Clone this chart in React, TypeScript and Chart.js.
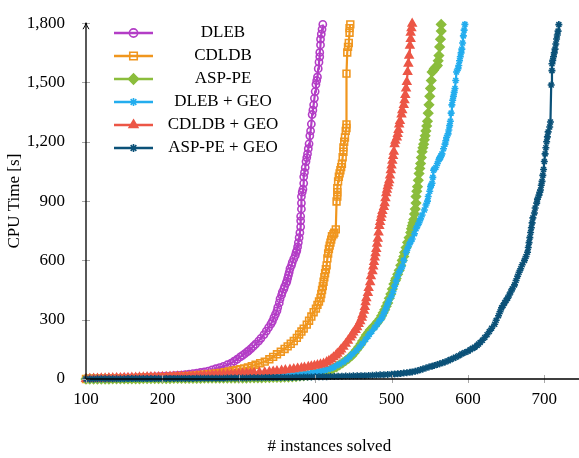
import React, { useEffect, useRef } from 'react';
import { Chart, registerables } from 'chart.js';
import { drawPoint } from 'chart.js/helpers';

Chart.register(...registerables);

// Cactus plot: CPU time of the i-th solved instance, per solver configuration.
const seriesNames = ['DLEB', 'CDLDB', 'ASP-PE', 'DLEB + GEO', 'CDLDB + GEO', 'ASP-PE + GEO'];

const xTicks = [100, 200, 300, 400, 500, 600, 700];
const yTicks = [0, 300, 600, 900, 1200, 1500, 1800];

const dleb: [number, number][] = [
  [100, 0], [105, 1], [110, 1], [115, 1], [120, 2], [125, 2], [130, 3], [135, 3], [140, 4], [145, 4],
  [150, 5], [155, 5], [160, 6], [165, 6], [170, 7], [175, 8], [180, 9], [185, 10], [190, 11], [195, 12],
  [200, 13], [205, 14], [210, 15], [215, 17], [220, 18], [225, 20], [230, 22], [235, 24], [240, 27], [245, 30],
  [250, 33], [255, 36], [260, 40], [265, 46], [270, 52], [275, 58], [280, 64], [285, 72], [290, 80], [294, 90],
  [298, 100], [302, 112], [305, 120], [308, 128], [311, 137], [313, 144], [316, 154], [319, 165], [322, 176],
  [326, 192], [329, 206], [333, 225], [336, 242], [339, 260], [342, 278], [344, 292], [346, 310], [348, 327],
  [350, 345], [351, 362], [353, 385], [354, 405], [356, 425], [357, 440], [359, 455], [360, 468], [362, 485],
  [363, 495], [364, 510], [365, 525], [366, 540], [367, 558], [369, 575], [370, 590], [372, 608], [374, 625],
  [375, 640], [376, 650], [377, 668], [378, 690], [379, 715], [380, 740], [381, 770], [381, 800], [381, 823],
  [382, 860], [382, 890], [382, 923], [383, 945], [384, 960], [385, 990], [385, 1023], [386, 1045], [387, 1070],
  [388, 1100], [389, 1120], [390, 1139], [391, 1165], [392, 1190], [393, 1230], [394, 1255], [395, 1290],
  [396, 1338], [397, 1360], [398, 1387], [399, 1420], [400, 1454], [401, 1490], [402, 1510], [403, 1528],
  [404, 1570], [405, 1603], [406, 1630], [406, 1652], [407, 1690], [407, 1719], [408, 1745], [409, 1769],
  [410, 1794],
];

const cdldb: [number, number][] = [
  [100, 0], [105, 1], [110, 1], [115, 1], [120, 1], [125, 2], [130, 2], [135, 2], [140, 3], [145, 3],
  [150, 3], [155, 4], [160, 4], [165, 5], [170, 5], [175, 6], [180, 6], [185, 7], [190, 7], [195, 8],
  [200, 8], [205, 9], [210, 10], [215, 11], [220, 12], [225, 13], [230, 14], [235, 15], [240, 17], [245, 18],
  [250, 20], [255, 22], [260, 24], [265, 26], [270, 28], [276, 31], [282, 34], [287, 38], [292, 42], [297, 46],
  [302, 50], [307, 54], [312, 58], [317, 65], [322, 72], [328, 80], [334, 88], [340, 100], [345, 112],
  [350, 125], [355, 138], [360, 152], [364, 165], [368, 178], [372, 192], [376, 208], [379, 225], [382, 240],
  [385, 255], [389, 275], [392, 295], [395, 316], [398, 338], [401, 356], [403, 375], [405, 392], [407, 410],
  [408, 430], [409, 450], [410, 470], [411, 492], [412, 515], [413, 535], [414, 555], [415, 575], [416, 610],
  [417, 635], [418, 658], [419, 675], [420, 690], [421, 705], [422, 722], [424, 732], [425, 740], [427, 757],
  [428, 898], [429, 923], [429, 945], [429, 965], [430, 1000], [431, 1023], [432, 1040], [433, 1056],
  [434, 1072], [435, 1089], [436, 1122], [437, 1150], [437, 1172], [438, 1200], [439, 1222], [440, 1255],
  [441, 1270], [441, 1288], [441, 1545], [442, 1652], [443, 1680], [444, 1700], [445, 1752], [445, 1775],
  [446, 1794],
];

const aspPe: [number, number][] = [
  [100, 0], [105, 0], [110, 0], [115, 0], [120, 0], [125, 0], [130, 0], [135, 1], [140, 1], [145, 1],
  [150, 1], [155, 1], [160, 1], [165, 1], [170, 1], [175, 2], [180, 2], [185, 2], [190, 2], [195, 2],
  [200, 2], [205, 2], [210, 2], [215, 3], [220, 3], [225, 3], [230, 3], [235, 3], [240, 3], [245, 3],
  [250, 3], [255, 4], [260, 4], [265, 4], [270, 4], [275, 4], [280, 4], [285, 5], [290, 5], [295, 5],
  [300, 5], [305, 5], [310, 5], [315, 6], [320, 6], [325, 6], [330, 6], [335, 7], [340, 7], [345, 8],
  [350, 8], [355, 8], [360, 9], [365, 10], [370, 11], [375, 12], [380, 14], [385, 16], [390, 18], [395, 21],
  [400, 24], [405, 28], [410, 33], [415, 39], [420, 46], [424, 54], [428, 62], [432, 72], [436, 82], [440, 93],
  [444, 105], [448, 118], [451, 132], [454, 147], [457, 162], [460, 178], [462, 192], [465, 208], [467, 222],
  [470, 236], [472, 248], [475, 258], [477, 268], [480, 280], [482, 290], [485, 305], [487, 320], [489, 335],
  [491, 350], [493, 368], [495, 385], [497, 408], [499, 430], [501, 455], [503, 480], [505, 498], [506, 509],
  [508, 530], [510, 550], [512, 575], [514, 600], [516, 620], [517, 640], [519, 665], [521, 691], [523, 715],
  [525, 741], [526, 760], [527, 775], [528, 790], [529, 807], [530, 835], [531, 860], [532, 890], [532, 923],
  [533, 950], [534, 973], [535, 1005], [536, 1039], [537, 1065], [538, 1090], [539, 1120], [540, 1150],
  [541, 1170], [542, 1188], [543, 1210], [544, 1230], [545, 1255], [546, 1280], [547, 1304], [548, 1345],
  [549, 1387], [550, 1430], [551, 1470], [552, 1510], [553, 1553], [555, 1562], [556, 1570], [558, 1578],
  [560, 1586], [561, 1610], [562, 1636], [563, 1680], [564, 1719], [565, 1760], [565, 1794],
];

const dlebGeo: [number, number][] = [
  [100, 0], [105, 0], [110, 1], [115, 1], [120, 1], [125, 1], [130, 2], [135, 2], [140, 2], [145, 2],
  [150, 3], [155, 3], [160, 3], [165, 3], [170, 4], [175, 4], [180, 4], [185, 4], [190, 5], [195, 5],
  [200, 5], [205, 5], [210, 6], [215, 6], [220, 6], [225, 7], [230, 7], [235, 7], [240, 8], [245, 8],
  [250, 9], [255, 9], [260, 10], [265, 10], [270, 11], [275, 11], [280, 12], [285, 12], [290, 13], [295, 13],
  [300, 14], [305, 14], [310, 15], [315, 15], [320, 16], [325, 16], [330, 17], [335, 17], [340, 18], [345, 18],
  [350, 19], [355, 19], [360, 20], [365, 21], [370, 22], [375, 23], [380, 24], [385, 25], [390, 27], [394, 29],
  [398, 31], [402, 34], [405, 38], [409, 41], [412, 45], [416, 49], [420, 53], [424, 60], [428, 68], [432, 76],
  [437, 86], [441, 98], [445, 112], [449, 127], [454, 144], [458, 162], [462, 180], [466, 200], [469, 215],
  [471, 227], [474, 240], [478, 260], [481, 276], [484, 293], [487, 308], [489, 325], [491, 342], [493, 360],
  [495, 380], [497, 400], [500, 420], [502, 443], [504, 470], [506, 495], [508, 520], [510, 542], [512, 555],
  [514, 570], [516, 600], [519, 641], [521, 660], [523, 680], [525, 695], [527, 708], [530, 735], [532, 760],
  [534, 775], [536, 791], [538, 810], [540, 830], [543, 855], [545, 880], [547, 900], [548, 923], [550, 950],
  [551, 973], [552, 980], [553, 990], [554, 1020], [555, 1056], [556, 1062], [558, 1070], [560, 1090],
  [562, 1110], [563, 1116], [564, 1122], [565, 1130], [566, 1139], [568, 1165], [570, 1188], [571, 1205],
  [572, 1222], [574, 1240], [575, 1260], [576, 1282], [577, 1304], [578, 1345], [579, 1387], [580, 1410],
  [581, 1430], [582, 1450], [583, 1470], [584, 1510], [585, 1553], [587, 1570], [588, 1586], [589, 1610],
  [590, 1630], [591, 1650], [592, 1669], [593, 1700], [594, 1736], [595, 1765], [596, 1794],
];

const cdldbGeo: [number, number][] = [
  [100, 0], [105, 1], [110, 2], [115, 2], [120, 3], [125, 3], [130, 4], [135, 4], [140, 5], [145, 5],
  [150, 6], [155, 6], [160, 7], [165, 7], [170, 8], [175, 8], [180, 9], [185, 9], [190, 10], [195, 10],
  [200, 11], [205, 11], [210, 12], [215, 12], [220, 13], [225, 13], [230, 14], [235, 14], [240, 15], [245, 16],
  [250, 17], [255, 18], [260, 19], [265, 20], [270, 21], [275, 22], [280, 23], [285, 24], [290, 25], [295, 26],
  [300, 27], [305, 28], [310, 29], [315, 30], [320, 31], [327, 33], [334, 34], [340, 36], [345, 38], [350, 40],
  [356, 42], [361, 45], [367, 47], [372, 50], [377, 53], [382, 55], [386, 58], [391, 61], [395, 64], [399, 67],
  [403, 70], [407, 74], [411, 78], [415, 85], [418, 92], [421, 100], [424, 110], [427, 119], [429, 128],
  [432, 139], [434, 150], [437, 163], [440, 178], [443, 194], [446, 210], [448, 222], [450, 235], [453, 248],
  [455, 262], [457, 278], [459, 293], [461, 310], [462, 325], [464, 345], [465, 365], [466, 388], [467, 409],
  [469, 435], [470, 460], [472, 490], [473, 520], [475, 545], [476, 570], [477, 592], [478, 615], [479, 636],
  [480, 658], [481, 685], [482, 710], [483, 742], [484, 774], [485, 795], [486, 815], [487, 832], [488, 850],
  [490, 870], [491, 890], [492, 915], [493, 940], [494, 958], [495, 975], [496, 990], [497, 1006], [498, 1030],
  [499, 1056], [500, 1080], [501, 1105], [502, 1128], [503, 1150], [504, 1188], [505, 1205], [507, 1222],
  [508, 1240], [509, 1260], [510, 1288], [511, 1305], [513, 1338], [514, 1360], [516, 1387], [517, 1410],
  [518, 1437], [519, 1470], [520, 1503], [521, 1553], [522, 1595], [523, 1636], [524, 1686], [525, 1720],
  [525, 1752], [526, 1775], [527, 1798],
];

const aspPeGeo: [number, number][] = [
  [100, 0], [105, 0], [110, 0], [115, 1], [120, 1], [125, 1], [130, 1], [135, 1], [140, 1], [145, 1],
  [150, 1], [155, 2], [160, 2], [165, 2], [170, 2], [175, 2], [180, 2], [185, 2], [190, 2], [195, 2],
  [200, 2], [205, 3], [210, 3], [215, 3], [220, 3], [225, 3], [230, 3], [235, 3], [240, 3], [245, 4],
  [250, 4], [255, 4], [260, 4], [265, 4], [270, 4], [275, 4], [280, 4], [285, 5], [290, 5], [295, 5],
  [300, 5], [305, 5], [310, 5], [315, 6], [320, 6], [325, 6], [330, 6], [335, 7], [340, 7], [345, 7],
  [350, 7], [355, 8], [360, 8], [365, 8], [370, 8], [375, 9], [380, 9], [385, 10], [390, 10], [395, 10],
  [400, 11], [405, 11], [410, 12], [415, 12], [420, 13], [425, 13], [430, 14], [435, 14], [440, 15], [445, 15],
  [450, 16], [455, 16], [460, 17], [465, 17], [470, 18], [475, 19], [480, 20], [485, 21], [490, 22], [495, 23],
  [500, 24], [504, 25], [508, 26], [512, 28], [516, 30], [520, 32], [524, 34], [527, 36], [531, 39], [534, 42],
  [538, 47], [541, 51], [545, 56], [549, 61], [553, 65], [556, 68], [560, 73], [563, 77], [567, 82], [570, 86],
  [574, 92], [577, 98], [581, 105], [584, 110], [588, 118], [592, 127], [596, 134], [600, 140], [603, 148],
  [606, 155], [609, 161], [612, 170], [614, 177], [616, 185], [619, 196], [622, 210], [625, 224], [628, 240],
  [631, 257], [635, 277], [637, 297], [640, 320], [642, 340], [644, 360], [646, 372], [648, 385], [650, 398],
  [652, 409], [654, 425], [656, 440], [658, 456], [661, 476], [663, 498], [665, 520], [667, 540], [669, 558],
  [671, 578], [674, 600], [676, 620], [678, 641], [679, 665], [680, 690], [681, 715], [682, 741], [683, 765],
  [684, 790], [685, 815], [687, 840], [688, 865], [690, 890], [691, 910], [693, 930], [694, 945], [695, 956],
  [696, 980], [697, 1000], [698, 1030], [699, 1060], [700, 1100], [701, 1139], [702, 1170], [703, 1200],
  [704, 1225], [705, 1250], [707, 1275], [708, 1300], [709, 1487], [710, 1560], [710, 1595], [711, 1612],
  [712, 1630], [713, 1650], [714, 1669], [715, 1695], [716, 1720], [717, 1740], [718, 1760], [719, 1793],
];

const seriesData = [dleb, cdldb, aspPe, dlebGeo, cdldbGeo, aspPeGeo];

const seriesColors = ['#B33DC6', '#F0961E', '#8BBD3C', '#23ADEE', '#EC5646', '#0B5178'];
const seriesMarkers = ['circle', 'rect', 'rectRot', 'star', 'triangle', 'star'];
const seriesFilled = [false, false, true, true, true, true];
const seriesRadius = [3.6, 4.8, 4.5, 3.5, 4.5, 3.5];

const FONT = '"Liberation Serif", "Times New Roman", serif';
const TICK_GRAY = '#a8a8a8';

// pgfplots-style axis lines (drawn over the data), with crossing tick marks and an arrow on y
const axesPlugin = {
  id: 'pgfAxes',
  afterDatasetsDraw(chart: any) {
    const { ctx, chartArea } = chart;
    const { left, top, bottom } = chartArea;
    const xs = chart.scales.x;
    const ys = chart.scales.y;
    ctx.save();
    ctx.strokeStyle = TICK_GRAY;
    ctx.lineWidth = 1;
    xTicks.forEach((t) => {
      const px = Math.round(xs.getPixelForValue(t)) + 0.5;
      ctx.beginPath();
      ctx.moveTo(px, bottom - 4);
      ctx.lineTo(px, bottom + 4);
      ctx.stroke();
    });
    yTicks.forEach((t) => {
      const py = Math.round(ys.getPixelForValue(t)) + 0.5;
      ctx.beginPath();
      ctx.moveTo(left - 4, py);
      ctx.lineTo(left + 4, py);
      ctx.stroke();
    });
    ctx.strokeStyle = '#000';
    ctx.lineWidth = 1.3;
    ctx.beginPath();
    ctx.moveTo(left, bottom);
    ctx.lineTo(chart.width + 5, bottom);
    ctx.moveTo(left, bottom);
    ctx.lineTo(left, top);
    ctx.stroke();
    ctx.lineWidth = 1;
    ctx.beginPath();
    ctx.moveTo(left - 3, top + 6);
    ctx.quadraticCurveTo(left - 0.5, top + 2.5, left, top - 0.5);
    ctx.quadraticCurveTo(left + 0.5, top + 2.5, left + 3, top + 6);
    ctx.stroke();
    ctx.restore();
  },
};

// Legend with line samples and centred labels, top-left of the plot
const legendPlugin = {
  id: 'pgfLegend',
  afterDraw(chart: any) {
    const ctx = chart.ctx;
    ctx.save();
    seriesNames.forEach((name, i) => {
      const y = 33 + i * 23;
      const color = seriesColors[i];
      ctx.strokeStyle = color;
      ctx.lineWidth = 2.6;
      ctx.beginPath();
      ctx.moveTo(114, y);
      ctx.lineTo(153, y);
      ctx.stroke();
      ctx.fillStyle = seriesFilled[i] ? color : 'rgba(0,0,0,0)';
      ctx.lineWidth = 1.6;
      drawPoint(ctx, { pointStyle: seriesMarkers[i], radius: seriesRadius[i] + 0.5, borderWidth: 1.6, rotation: 0 } as any, 133.5, y);
      ctx.fillStyle = '#000';
      ctx.font = `17px ${FONT}`;
      ctx.textAlign = 'center';
      ctx.textBaseline = 'middle';
      ctx.fillText(name, 223, y);
    });
    ctx.restore();
  },
};

export default function App() {
  const canvasRef = useRef<HTMLCanvasElement | null>(null);

  useEffect(() => {
    if (!canvasRef.current) return;
    const datasets = seriesData.map((pts, i) => ({
      label: seriesNames[i],
      data: pts.map(([x, y]) => ({ x, y })),
      showLine: true,
      borderColor: seriesColors[i],
      backgroundColor: seriesColors[i],
      borderWidth: 2.2,
      pointStyle: seriesMarkers[i],
      pointRadius: seriesRadius[i],
      pointBorderWidth: 1.6,
      pointBorderColor: seriesColors[i],
      pointBackgroundColor: seriesFilled[i] ? seriesColors[i] : 'rgba(0,0,0,0)',
      order: seriesNames.length - 1 - i,
      clip: false as any,
    }));

    const chart = new Chart(canvasRef.current, {
      type: 'scatter',
      data: { datasets },
      options: {
        animation: false,
        responsive: false,
        devicePixelRatio: 1,
        layout: { padding: { top: 17, left: 0, right: 0, bottom: 0 } },
        plugins: { legend: { display: false }, tooltip: { enabled: false } },
        scales: {
          x: {
            type: 'linear',
            min: 100,
            max: 737,
            grid: { display: false },
            border: { display: false },
            afterFit: (s: any) => { s.height = 79; },
            afterBuildTicks: (s: any) => { s.ticks = xTicks.map((v) => ({ value: v })); },
            ticks: { color: '#000', padding: 2, font: { family: FONT, size: 17 } },
            title: { display: true, text: '# instances solved', color: '#000', font: { family: FONT, size: 17 }, padding: { top: 0, bottom: 1 } },
          },
          y: {
            type: 'linear',
            min: 0,
            max: 1800,
            grid: { display: false },
            border: { display: false },
            afterFit: (s: any) => { s.width = 86; },
            afterBuildTicks: (s: any) => { s.ticks = yTicks.map((v) => ({ value: v })); },
            ticks: {
              color: '#000',
              padding: 13,
              font: { family: FONT, size: 17 },
              callback: (v: any) => Number(v).toLocaleString('en-US'),
            },
            title: { display: true, text: 'CPU Time [s]', color: '#000', font: { family: FONT, size: 17 }, padding: { top: 4, bottom: 0 } },
          },
        },
      },
      plugins: [axesPlugin, legendPlugin],
    });
    return () => chart.destroy();
  }, []);

  return (
    <div style={{ position: 'absolute', left: 0, top: 0, width: 579, height: 458, background: '#fff' }}>
      <canvas ref={canvasRef} width={579} height={458} style={{ display: 'block' }} />
    </div>
  );
}
